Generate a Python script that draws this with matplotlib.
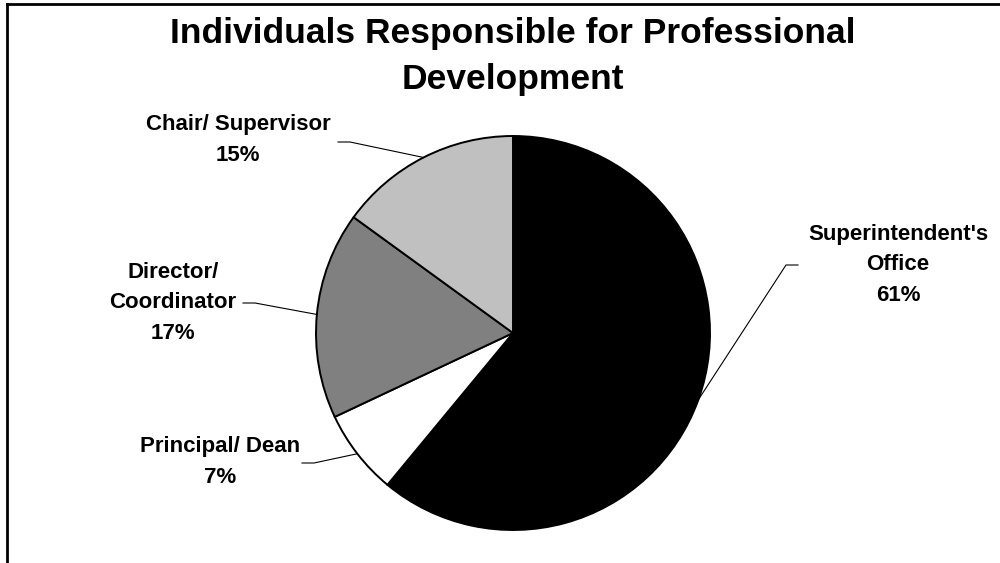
import numpy as np
import matplotlib
matplotlib.use("Agg")
import matplotlib.pyplot as plt
from matplotlib.lines import Line2D

plt.rcParams['font.family'] = ['Liberation Sans', 'DejaVu Sans']

# Share of respondents by who is responsible for professional development
labels = ["Superintendent's\nOffice", "Principal/ Dean", "Director/\nCoordinator", "Chair/ Supervisor"]
shares = [61, 7, 17, 15]
colors = ["#000000", "#FFFFFF", "#808080", "#C0C0C0"]

# label block centres and where each leader line leaves the text (pixels, y from top)
label_pos = [(898, 265), (220, 462), (173, 303), (238, 140)]
elbow_pos = [(798, 265), (302, 463), (243, 303), (338, 142)]

W, H = 1000, 563
fig = plt.figure(figsize=(W / 100, H / 100), dpi=100)
ax = fig.add_axes([0, 0, 1, 1])

cx, cy, r = 513, H - 333, 197
wedges, _ = ax.pie(shares, colors=colors, startangle=90, counterclock=False,
                   center=(cx, cy), radius=r, frame=True,
                   wedgeprops=dict(edgecolor='black', linewidth=1.4))
ax.set_xlim(0, W)
ax.set_ylim(0, H)
ax.set_aspect('equal')
ax.axis('off')

for w, lab, val, (tx, ty), (ex, ey) in zip(wedges, labels, shares, label_pos, elbow_pos):
    mid = np.deg2rad((w.theta1 + w.theta2) / 2)
    px, py = cx + r * np.cos(mid), cy + r * np.sin(mid)
    # short horizontal stub next to the text, then straight to the slice edge
    step = 12 if ex < cx else -12
    ax.plot([ex, ex + step, px], [H - ey, H - ey, py], color='black', lw=0.8)
    ax.text(tx, H - ty, f"{lab}\n{val}%", ha='center', va='center',
            multialignment='center', fontsize=16, fontweight='bold',
            linespacing=1.62)

ax.text(513, H - 56, "Individuals Responsible for Professional\nDevelopment",
        ha='center', va='center', fontsize=25.5, fontweight='bold', linespacing=1.5)

# chart area border (runs off the right and bottom edges)
fig.add_artist(Line2D([7 / W, 1], [1 - 4 / H, 1 - 4 / H], color='black', lw=2))
fig.add_artist(Line2D([7 / W, 7 / W], [1 - 4 / H, 0], color='black', lw=2))

fig.savefig("out.png", dpi=100)
